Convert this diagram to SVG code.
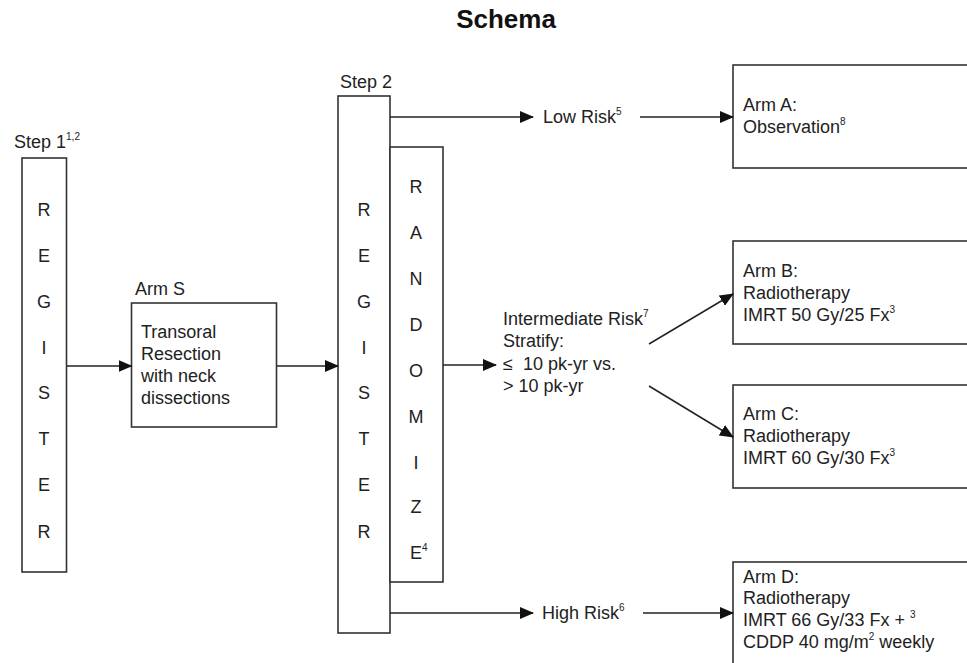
<svg xmlns="http://www.w3.org/2000/svg" width="967" height="663" viewBox="0 0 967 663">
<defs>
<marker id="ah" markerUnits="userSpaceOnUse" markerWidth="14" markerHeight="12" refX="13" refY="6" orient="auto">
<path d="M0,0 L14,6 L0,12 z" fill="#111"/>
</marker>
<style>
text{font-family:"Liberation Sans",Arial,sans-serif;font-size:18px;fill:#222}
.box{fill:#fff;stroke:#333;stroke-width:1.6}
.c{text-anchor:middle}
.sup{font-size:10px}
.con line{stroke:#222;stroke-width:1.5}
.title{font-size:26px;font-weight:bold;fill:#111}
</style>
</defs>
<rect width="967" height="663" fill="#fff"/>
<text class="title c" x="506" y="28">Schema</text>

<g id="step1">
<text x="14" y="148">Step 1<tspan class="sup" dy="-8">1,2</tspan></text>
<rect class="box" x="22" y="158" width="44.5" height="414"/>
<g class="c">
<text x="44" y="216">R</text><text x="44" y="262">E</text><text x="44" y="308">G</text><text x="44" y="354">I</text>
<text x="44" y="399">S</text><text x="44" y="445">T</text><text x="44" y="491">E</text><text x="44" y="538">R</text>
</g>
</g>

<g id="armS">
<text x="135" y="295">Arm S</text>
<rect class="box" x="131.5" y="303" width="145" height="124"/>
<text x="141" y="338">Transoral</text>
<text x="141" y="360">Resection</text>
<text x="141" y="382">with neck</text>
<text x="141" y="404">dissections</text>
</g>

<g id="step2">
<text x="340" y="88">Step 2</text>
<rect class="box" x="338" y="96" width="52" height="537"/>
<g class="c">
<text x="364" y="216">R</text><text x="364" y="262">E</text><text x="364" y="308">G</text><text x="364" y="354">I</text>
<text x="364" y="399">S</text><text x="364" y="445">T</text><text x="364" y="491">E</text><text x="364" y="538">R</text>
</g>
</g>

<g id="randomize">
<rect class="box" x="390" y="147" width="53" height="435"/>
<g class="c">
<text x="416" y="193">R</text><text x="416" y="239">A</text><text x="416" y="285">N</text><text x="416" y="331">D</text>
<text x="416" y="377">O</text><text x="416" y="423">M</text><text x="416" y="469">I</text><text x="416" y="513">Z</text>
</g>
<text x="410" y="559">E<tspan class="sup" dy="-8">4</tspan></text>
</g>

<g id="lowrisk"><text x="543" y="123">Low Risk<tspan class="sup" dy="-8">5</tspan></text></g>
<g id="intrisk">
<text x="503" y="325">Intermediate Risk<tspan class="sup" dy="-8">7</tspan></text>
<text x="503" y="347">Stratify:</text>
<text x="503" y="370">≤&#160; 10 pk-yr vs.</text>
<text x="503" y="392">&gt; 10 pk-yr</text>
</g>
<g id="highrisk"><text x="542" y="619">High Risk<tspan class="sup" dy="-8">6</tspan></text></g>

<g id="armA">
<rect class="box" x="733" y="65" width="260" height="103"/>
<text x="743" y="111">Arm A:</text>
<text x="743" y="133">Observation<tspan class="sup" dy="-8">8</tspan></text>
</g>
<g id="armB">
<rect class="box" x="733" y="241" width="260" height="103"/>
<text x="743" y="277">Arm B:</text>
<text x="743" y="299">Radiotherapy</text>
<text x="743" y="321">IMRT 50 Gy/25 Fx<tspan class="sup" dy="-8">3</tspan></text>
</g>
<g id="armC">
<rect class="box" x="733" y="385" width="260" height="103"/>
<text x="743" y="420">Arm C:</text>
<text x="743" y="442">Radiotherapy</text>
<text x="743" y="464">IMRT 60 Gy/30 Fx<tspan class="sup" dy="-8">3</tspan></text>
</g>
<g id="armD">
<rect class="box" x="733" y="562" width="260" height="120"/>
<text x="743" y="583">Arm D:</text>
<text x="743" y="604">Radiotherapy</text>
<text x="743" y="626">IMRT 66 Gy/33 Fx + <tspan class="sup" dy="-8">3</tspan></text>
<text x="743" y="648">CDDP 40 mg/m<tspan class="sup" dy="-8">2</tspan><tspan dy="8"> weekly</tspan></text>
</g>

<g class="con">
<line x1="67" y1="366" x2="131.5" y2="366" marker-end="url(#ah)"/>
<line x1="277" y1="366" x2="338" y2="366" marker-end="url(#ah)"/>
<line x1="390" y1="117" x2="533" y2="117" marker-end="url(#ah)"/>
<line x1="640" y1="117" x2="733" y2="117" marker-end="url(#ah)"/>
<line x1="443" y1="365" x2="496" y2="365" marker-end="url(#ah)"/>
<line x1="649" y1="344" x2="733" y2="294" marker-end="url(#ah)"/>
<line x1="649" y1="386" x2="733" y2="437" marker-end="url(#ah)"/>
<line x1="390" y1="613" x2="533" y2="613" marker-end="url(#ah)"/>
<line x1="643" y1="613" x2="733" y2="613" marker-end="url(#ah)"/>
</g>
</svg>
